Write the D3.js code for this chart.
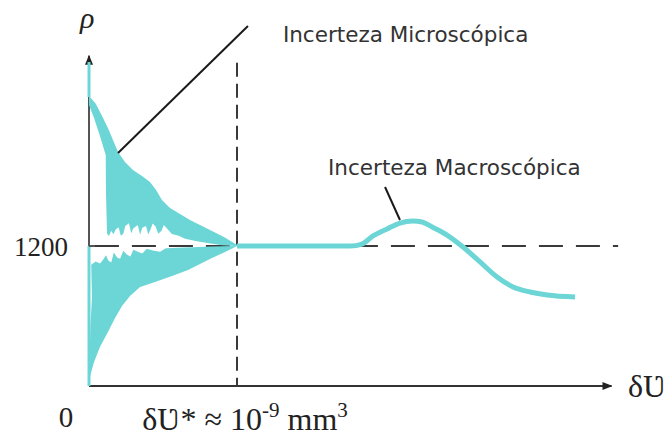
<!DOCTYPE html>
<html>
<head>
<meta charset="utf-8">
<script src="https://cdn.jsdelivr.net/npm/d3@7"></script>
<style>
  html, body { margin: 0; padding: 0; background: #fff; }
  svg { display: block; }
  .serif { font-family: "Liberation Serif", "DejaVu Serif", serif; fill: #222; }
  .note { font-family: "DejaVu Sans", "Noto Sans", sans-serif; fill: #333; }
</style>
</head>
<body>
<svg id="chart" width="672" height="439"></svg>
<script>
// Volume expressed relative to δƲ* (x = 1 is the threshold volume); density in kg/m³.

// Upper edge of the microscopic fluctuation band (above ρ = 1200), left to right
const upperOuter = [
  [0, 2777], [0.007, 2477], [0.047, 2417], [0.088, 2314], [0.128, 2211],
  [0.162, 2109], [0.196, 2006], [0.243, 1920], [0.297, 1851], [0.358, 1800],
  [0.412, 1749], [0.453, 1680], [0.493, 1594], [0.547, 1526], [0.615, 1474],
  [0.682, 1423], [0.750, 1380], [0.831, 1329], [0.912, 1277], [1.0, 1209]
];
// Inner (lower) edge of the upper band, right to left
const upperInner = [
  [1.0, 1200], [0.899, 1206], [0.80, 1226], [0.72, 1243], [0.65, 1262],
  [0.601, 1290], [0.56, 1303], [0.53, 1345], [0.505, 1380], [0.49, 1330],
  [0.468, 1305], [0.45, 1368], [0.43, 1392], [0.415, 1340], [0.40, 1298],
  [0.385, 1372], [0.36, 1356], [0.345, 1296], [0.33, 1380], [0.30, 1352],
  [0.285, 1310], [0.27, 1395], [0.245, 1372], [0.232, 1305], [0.215, 1288],
  [0.20, 1360], [0.18, 1342], [0.165, 1300], [0.15, 1330], [0.135, 1286],
  [0.122, 1306], [0.115, 1640], [0.113, 1980],
  [0.074, 2143], [0.034, 2297], [0, 2408]
];
// Inner (upper) edge of the lower band, left to right
const lowerInner = [
  [0.015, 1040], [0.045, 1068], [0.075, 1050], [0.095, 1082], [0.115, 1120],
  [0.13, 1076], [0.15, 1058], [0.168, 1145], [0.19, 1102], [0.21, 1090],
  [0.232, 1160], [0.255, 1128], [0.28, 1110], [0.30, 1168], [0.33, 1150],
  [0.36, 1136], [0.39, 1176], [0.43, 1162], [0.48, 1150], [0.52, 1180],
  [0.6, 1186], [0.7, 1190], [0.82, 1195], [1.0, 1200]
];
// Outer (lower) edge of the lower band, right to left
const lowerOuter = [
  [0.919, 1149], [0.831, 1097], [0.75, 1046], [0.669, 994], [0.561, 943],
  [0.446, 891], [0.345, 849], [0.277, 771], [0.223, 686], [0.176, 583],
  [0.128, 463], [0.074, 334], [0.034, 206], [0, 51], [0.01, 520], [0.02, 760]
];
// Readings lying on the ρ axis itself
const axisSpans = [
  [[0, 2777], [0, 2477]],
  [[0, 1200], [0, 0]]
];
// Macroscopic regime: smooth density beyond δƲ*
const macroCurve = [
  [1.0, 1200], [1.426, 1200], [1.764, 1200], [1.845, 1217], [1.919, 1286],
  [2.014, 1346], [2.101, 1397], [2.189, 1414], [2.25, 1406], [2.318, 1363],
  [2.419, 1294], [2.527, 1191], [2.642, 1063], [2.757, 934], [2.865, 849],
  [2.980, 806], [3.095, 780], [3.284, 763]
];

const refDensity = 1200;
const thresholdVolume = 1;
const yTickValues = [1200];
const yTickLabels = ["1200"];
const xTickValues = [0, 1];
const xOriginLabel = "0";
// threshold label split into normal / superscript runs
const xThresholdLabel = [
  { t: "δƲ* ≈ 10", sup: false },
  { t: "-9", sup: true },
  { t: " mm", sup: false },
  { t: "3", sup: true }
];
const xAxisTitle = "δƲ";
const yAxisTitle = "ρ";

const notes = [
  { text: "Incerteza Microscópica", from: [0.196, 1997], to: [1.074, 3085], at: [1.31, 2950] },
  { text: "Incerteza Macroscópica", from: [2.0, 1706], to: [2.101, 1423], at: [1.615, 1810] }
];

const svg = d3.select("#chart");
const x = d3.scaleLinear().domain([0, 3.52]).range([89, 610]);
const y = d3.scaleLinear().domain([0, 2820]).range([386, 57]);

const cyan = "#6cd5d6";
const ink = "#3a3a3a";

const defs = svg.append("defs");
defs.append("marker")
  .attr("id", "arrow")
  .attr("viewBox", "0 0 10 10")
  .attr("refX", 9).attr("refY", 5)
  .attr("markerWidth", 5).attr("markerHeight", 5)
  .attr("orient", "auto")
  .append("path").attr("d", "M0,1 L10,5 L0,9 Z").attr("fill", "#222");

// Axes (drawn as arrows)
svg.append("line")
  .attr("x1", x(0)).attr("y1", y(0)).attr("x2", x(0)).attr("y2", y(2830))
  .attr("stroke", "#555").attr("stroke-width", 2).attr("marker-end", "url(#arrow)");
svg.append("line")
  .attr("x1", x(0)).attr("y1", y(0)).attr("x2", x(3.53)).attr("y2", y(0))
  .attr("stroke", "#333").attr("stroke-width", 2).attr("marker-end", "url(#arrow)");

// Reference lines
svg.append("line")
  .attr("x1", x(0.04)).attr("x2", x(3.575))
  .attr("y1", y(refDensity)).attr("y2", y(refDensity))
  .attr("stroke", ink).attr("stroke-width", 2).attr("stroke-dasharray", "24,13");
svg.append("line")
  .attr("x1", x(thresholdVolume)).attr("x2", x(thresholdVolume))
  .attr("y1", y(2770)).attr("y2", y(0))
  .attr("stroke", ink).attr("stroke-width", 2).attr("stroke-dasharray", "14,7");

// Microscopic band
const poly = d3.line().x(d => x(d[0])).y(d => y(d[1])).curve(d3.curveLinearClosed);
svg.append("path").attr("d", poly(upperOuter.concat(upperInner))).attr("fill", cyan);
svg.append("path").attr("d", poly(lowerInner.concat(lowerOuter))).attr("fill", cyan);
const seg = d3.line().x(d => x(d[0])).y(d => y(d[1]));
axisSpans.forEach(s => {
  svg.append("path").attr("d", seg(s)).attr("stroke", cyan).attr("stroke-width", 3).attr("fill", "none");
});

// Macroscopic curve
svg.append("path")
  .attr("d", d3.line().x(d => x(d[0])).y(d => y(d[1])).curve(d3.curveMonotoneX)(macroCurve))
  .attr("fill", "none").attr("stroke", cyan).attr("stroke-width", 5).attr("stroke-linecap", "butt");

// Annotations
notes.forEach(n => {
  svg.append("line")
    .attr("x1", x(n.from[0])).attr("y1", y(n.from[1]))
    .attr("x2", x(n.to[0])).attr("y2", y(n.to[1]))
    .attr("stroke", "#1a1a1a").attr("stroke-width", 2);
  svg.append("text").attr("class", "note")
    .attr("x", x(n.at[0])).attr("y", y(n.at[1]))
    .attr("font-size", 21.5)
    .text(n.text);
});

// Tick labels
yTickValues.forEach((v, i) => {
  svg.append("text").attr("class", "serif")
    .attr("x", x(0) - 21).attr("y", y(v) + 10)
    .attr("text-anchor", "end").attr("font-size", 27)
    .text(yTickLabels[i]);
});
svg.append("line")
  .attr("x1", x(0)).attr("x2", x(0) + 6).attr("y1", y(refDensity)).attr("y2", y(refDensity))
  .attr("stroke", "#555").attr("stroke-width", 2);
svg.append("text").attr("class", "serif")
  .attr("x", x(xTickValues[0]) - 23).attr("y", 427)
  .attr("text-anchor", "middle").attr("font-size", 29)
  .text(xOriginLabel);
const thr = svg.append("text").attr("class", "serif")
  .attr("x", x(xTickValues[1]) + 8).attr("y", 430)
  .attr("text-anchor", "middle").attr("font-size", 32);
xThresholdLabel.forEach((r, i) => {
  const prevSup = i > 0 && xThresholdLabel[i - 1].sup;
  thr.append("tspan")
    .attr("font-size", r.sup ? 21 : 32)
    .attr("dy", r.sup ? -13 : (prevSup ? 13 : 0))
    .text(r.t);
});

// Axis titles
svg.append("text").attr("class", "serif")
  .attr("x", 628).attr("y", 397).attr("font-size", 32)
  .text(xAxisTitle);
svg.append("text").attr("class", "serif")
  .attr("x", 80).attr("y", 28).attr("font-size", 30).attr("font-style", "italic")
  .text(yAxisTitle);
</script>
</body>
</html>
